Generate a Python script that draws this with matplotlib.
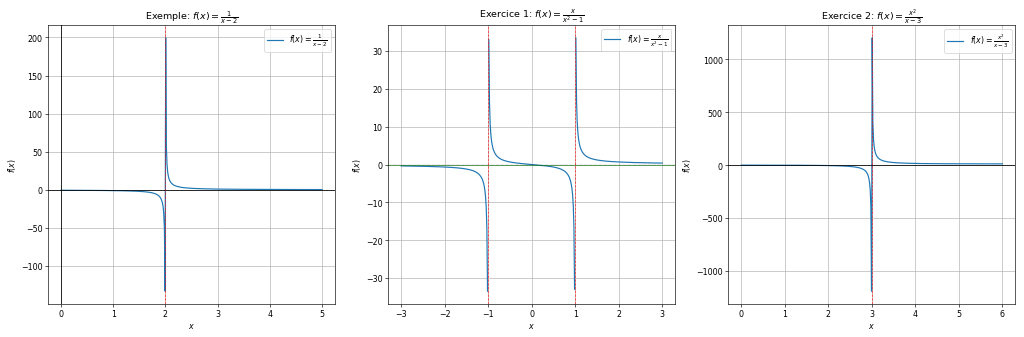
import numpy as np
import matplotlib
matplotlib.use("Agg")
import matplotlib.pyplot as plt

# domains of the three functions (400 samples each, as in the original)
x_exemple = np.linspace(0, 5, 400)
x_ex1 = np.linspace(-3, 3, 400)
x_ex2 = np.linspace(0, 6, 400)

# vertical asymptotes
asym_exemple = [2]
asym_ex1 = [-1, 1]
asym_ex2 = [3]

titles = [r'Exemple: $f(x) = \frac{1}{x-2}$',
          r'Exercice 1: $f(x) = \frac{x}{x^2-1}$',
          r'Exercice 2: $f(x) = \frac{x^2}{x-3}$']
labels = [r'$f(x) = \frac{1}{x-2}$',
          r'$f(x) = \frac{x}{x^2-1}$',
          r'$f(x) = \frac{x^2}{x-3}$']

with np.errstate(divide='ignore', invalid='ignore'):
    y_exemple = 1 / (x_exemple - 2)
    y_ex1 = x_ex1 / (x_ex1**2 - 1)
    y_ex2 = x_ex2**2 / (x_ex2 - 3)

# drop the point sitting exactly on the asymptote
y_ex1 = np.where(np.abs(y_ex1) > 1e6, np.nan, y_ex1)

fig, axes = plt.subplots(1, 3, figsize=(18, 5.94))

# Exemple
ax = axes[0]
ax.plot(x_exemple, y_exemple, label=labels[0])
ax.axhline(0, color='black', linewidth=1)
ax.axvline(0, color='black', linewidth=1)
for a in asym_exemple:
    ax.axvline(a, color='red', linestyle='--', linewidth=0.9, alpha=0.8)

# Exercice 1 (horizontal asymptote y=0 in green)
ax = axes[1]
ax.plot(x_ex1, y_ex1, label=labels[1])
ax.axhline(0, color='green', linewidth=1.3, alpha=0.55)
ax.axhline(0, color='black', linestyle=':', linewidth=0.6, alpha=0.6)
for a in asym_ex1:
    ax.axvline(a, color='red', linestyle='--', linewidth=0.9, alpha=0.8)

# Exercice 2
ax = axes[2]
ax.plot(x_ex2, y_ex2, label=labels[2])
ax.axhline(0, color='black', linewidth=1)
for a in asym_ex2:
    ax.axvline(a, color='red', linestyle='--', linewidth=0.9, alpha=0.8)

for ax, t in zip(axes, titles):
    ax.set_title(t)
    ax.set_xlabel('$x$')
    ax.set_ylabel('$f(x)$')
    ax.grid(True)
    ax.legend(loc='upper right')

plt.tight_layout()
plt.savefig('out.png', dpi=1024 / 18)
